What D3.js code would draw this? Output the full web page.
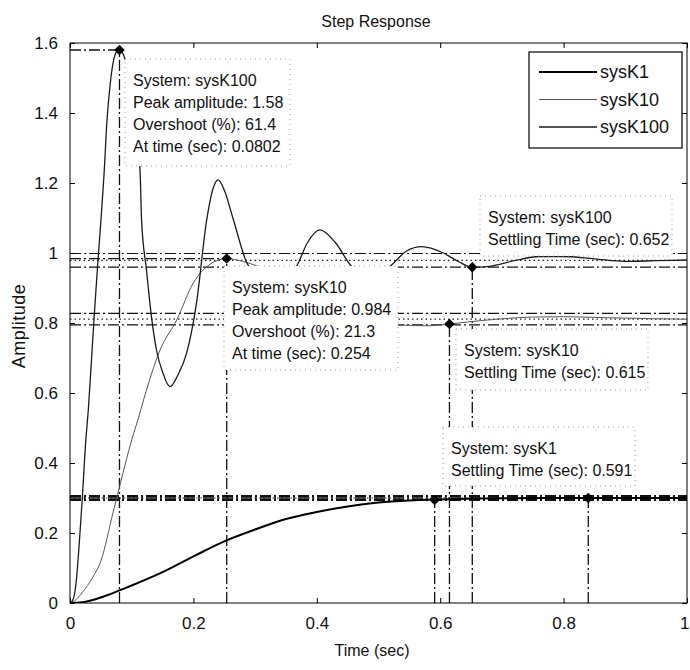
<!DOCTYPE html>
<html>
<head>
<meta charset="utf-8">
<script src="https://cdn.jsdelivr.net/npm/d3@7"></script>
<style>
  body { margin: 0; background: #fff; }
  svg text { font-family: "Liberation Sans", Arial, sans-serif; fill: #111; }
</style>
</head>
<body>
<div id="chart"></div>
<script>
// step responses
const tK1 = [0, 0.02, 0.04, 0.06, 0.08, 0.1, 0.15, 0.2, 0.25, 0.3, 0.35, 0.4, 0.45, 0.5, 0.55, 0.6, 0.7, 0.8, 0.9, 1.0];
const yK1 = [0, 0.002, 0.01, 0.022, 0.036, 0.05, 0.088, 0.133, 0.176, 0.21, 0.24, 0.26, 0.276, 0.287, 0.293, 0.296, 0.299, 0.3, 0.3, 0.3];

const tK10 = [0, 0.01, 0.02, 0.037, 0.05, 0.07, 0.081, 0.1, 0.11, 0.12, 0.146, 0.173, 0.2, 0.227, 0.254, 0.28, 0.3, 0.35, 0.4, 0.45, 0.5, 0.54, 0.58, 0.615, 0.65, 0.7, 0.75, 0.8, 0.85, 0.9, 0.95, 1.0];
const yK10 = [0, 0.01, 0.03, 0.074, 0.12, 0.26, 0.337, 0.466, 0.523, 0.585, 0.723, 0.809, 0.915, 0.968, 0.984, 0.976, 0.965, 0.92, 0.865, 0.825, 0.8, 0.794, 0.792, 0.797, 0.804, 0.812, 0.817, 0.818, 0.816, 0.814, 0.812, 0.811];

const tK100 = [0, 0.005, 0.01, 0.015, 0.02, 0.025, 0.03, 0.035, 0.04, 0.045, 0.05, 0.055, 0.06, 0.065, 0.07, 0.075, 0.0802, 0.09, 0.1, 0.108, 0.1135, 0.116, 0.124, 0.132, 0.1405, 0.15, 0.162, 0.175, 0.189, 0.205, 0.2215, 0.232, 0.24, 0.25, 0.264, 0.286, 0.31, 0.33, 0.35, 0.367, 0.385, 0.405, 0.43, 0.457, 0.49, 0.521, 0.545, 0.57, 0.605, 0.63, 0.652, 0.68, 0.72, 0.76, 0.8, 0.85, 0.9, 0.95, 1.0];
const yK100 = [0, 0.01, 0.06, 0.17, 0.3, 0.45, 0.56, 0.7, 0.84, 0.97, 1.09, 1.22, 1.38, 1.48, 1.545, 1.574, 1.58, 1.55, 1.45, 1.33, 1.237, 1.094, 0.951, 0.818, 0.72, 0.66, 0.618, 0.652, 0.714, 0.857, 1.094, 1.185, 1.209, 1.18, 1.10, 0.974, 0.925, 0.912, 0.928, 0.961, 1.03, 1.066, 1.03, 0.961, 0.935, 0.966, 1.005, 1.018, 1.0, 0.975, 0.959, 0.962, 0.978, 0.99, 0.99, 0.983, 0.976, 0.978, 0.98];

const seriesNames = ["sysK1", "sysK10", "sysK100"];
const finalValues = [0.3, 0.811, 0.979];

// peak response characteristics
const peakNames = ["sysK100", "sysK10", "sysK1"];
const peakTimes = [0.0802, 0.254, 0.84];
const peakValues = [1.58, 0.984, 0.3];
const peakOvershoot = [61.4, 21.3, 0];

// settling time characteristics
const settleNames = ["sysK100", "sysK10", "sysK1"];
const settleTimes = [0.652, 0.615, 0.591];
const settleValues = [0.959, 0.797, 0.294];

const xTicks = [0, 0.2, 0.4, 0.6, 0.8, 1];
const yTicks = [0, 0.2, 0.4, 0.6, 0.8, 1, 1.2, 1.4, 1.6];

const width = 690, height = 670;
const plotL = 70, plotR = 687, plotT = 43, plotB = 603;

const svg = d3.select("#chart").append("svg")
    .attr("width", width)
    .attr("height", height);

const x = d3.scaleLinear().domain([0, 1]).range([plotL, plotR]);
const y = d3.scaleLinear().domain([0, 1.6]).range([plotB, plotT]);

svg.append("clipPath").attr("id", "plot")
  .append("rect")
    .attr("x", plotL).attr("y", plotT)
    .attr("width", plotR - plotL).attr("height", plotB - plotT);

const plot = svg.append("g").attr("clip-path", "url(#plot)");

const dashDot = "11,3,2,3";
const dotted = "1.5,3";

// settling bounds (2%) and final values
finalValues.forEach((f, i) => {
    const w = i === 0 ? 2 : 1.2;
    [f * 0.98, f * 1.02].forEach(b => {
        plot.append("line")
            .attr("x1", x(0)).attr("x2", x(1))
            .attr("y1", y(b)).attr("y2", y(b))
            .attr("stroke", "#111").attr("stroke-width", w)
            .attr("stroke-dasharray", dashDot);
    });
    plot.append("line")
        .attr("x1", x(0)).attr("x2", x(1))
        .attr("y1", y(f)).attr("y2", y(f))
        .attr("stroke", "#222").attr("stroke-width", 1.2)
        .attr("stroke-dasharray", dotted);
});

// peak guide lines
peakTimes.forEach((t, i) => {
    plot.append("line")
        .attr("x1", x(t)).attr("x2", x(t))
        .attr("y1", y(0)).attr("y2", y(peakValues[i]))
        .attr("stroke", "#111").attr("stroke-width", 1.3)
        .attr("stroke-dasharray", dashDot);
    plot.append("line")
        .attr("x1", x(0)).attr("x2", x(t))
        .attr("y1", y(peakValues[i])).attr("y2", y(peakValues[i]))
        .attr("stroke", "#111").attr("stroke-width", 1.3)
        .attr("stroke-dasharray", dashDot);
});

// settling guide lines
settleTimes.forEach((t, i) => {
    plot.append("line")
        .attr("x1", x(t)).attr("x2", x(t))
        .attr("y1", y(0)).attr("y2", y(settleValues[i]))
        .attr("stroke", "#111").attr("stroke-width", 1.3)
        .attr("stroke-dasharray", dashDot);
});

// response curves
const line = d3.line()
    .x(d => x(d[0]))
    .y(d => y(d[1]))
    .curve(d3.curveMonotoneX);

const curves = [
    { t: tK1, v: yK1, color: "#000", w: 2 },
    { t: tK10, v: yK10, color: "#555", w: 1 },
    { t: tK100, v: yK100, color: "#1a1a1a", w: 1.3 }
];

curves.forEach(c => {
    plot.append("path")
        .datum(d3.zip(c.t, c.v))
        .attr("fill", "none")
        .attr("stroke", c.color)
        .attr("stroke-width", c.w)
        .attr("d", line);
});

// markers
const marker = d3.symbol().type(d3.symbolSquare).size(55);
const markerPts = d3.zip(peakTimes, peakValues).concat(d3.zip(settleTimes, settleValues));
plot.selectAll(".mk")
    .data(markerPts)
    .enter()
    .append("path")
    .attr("d", marker)
    .attr("transform", d => `translate(${x(d[0])},${y(d[1])}) rotate(45)`)
    .attr("fill", "#000");

// axes box and ticks
svg.append("rect")
    .attr("x", plotL).attr("y", plotT)
    .attr("width", plotR - plotL).attr("height", plotB - plotT)
    .attr("fill", "none").attr("stroke", "#000").attr("stroke-width", 1);

svg.append("g")
    .attr("transform", `translate(0,${plotB})`)
    .call(d3.axisBottom(x).tickValues(xTicks).tickSize(-5).tickPadding(14).tickFormat(d3.format("~g")))
    .call(g => g.select(".domain").remove())
    .call(g => g.selectAll(".tick:last-of-type text").attr("text-anchor", "end").attr("x", 2));
svg.append("g")
    .attr("transform", `translate(0,${plotT})`)
    .call(d3.axisTop(x).tickValues(xTicks).tickSize(-5).tickFormat(""))
    .call(g => g.select(".domain").remove());
svg.append("g")
    .attr("transform", `translate(${plotL},0)`)
    .call(d3.axisLeft(y).tickValues(yTicks).tickSize(-5).tickPadding(12).tickFormat(d3.format("~g")))
    .call(g => g.select(".domain").remove());
svg.append("g")
    .attr("transform", `translate(${plotR},0)`)
    .call(d3.axisRight(y).tickValues(yTicks).tickSize(-5).tickFormat(""))
    .call(g => g.select(".domain").remove());

svg.selectAll(".tick line").attr("stroke", "#000");
svg.selectAll(".tick text")
    .style("font-family", "'Liberation Sans', Arial, sans-serif")
    .style("font-size", "17px")
    .attr("fill", "#222");

// datatip boxes (opaque, cover what is below them)
function datatip(bx, by, bw, bh, lines) {
    const g = svg.append("g");
    g.append("rect")
        .attr("x", bx).attr("y", by)
        .attr("width", bw).attr("height", bh)
        .attr("fill", "#fff")
        .attr("stroke", "#999").attr("stroke-width", 1)
        .attr("stroke-dasharray", "1,4");
    lines.forEach((s, i) => {
        g.append("text")
            .attr("x", bx + 8)
            .attr("y", by + 27 + i * 22)
            .style("font-size", "16px")
            .text(s);
    });
}

datatip(125, 59, 165, 107, [
    "System: " + peakNames[0],
    "Peak amplitude: " + peakValues[0],
    "Overshoot (%): " + peakOvershoot[0],
    "At time (sec): " + peakTimes[0]
]);
datatip(224, 266, 174, 104, [
    "System: " + peakNames[1],
    "Peak amplitude: " + peakValues[1],
    "Overshoot (%): " + peakOvershoot[1],
    "At time (sec): " + peakTimes[1]
]);
datatip(480, 196, 192, 60, [
    "System: " + settleNames[0],
    "Settling Time (sec): " + settleTimes[0]
]);
datatip(456, 329, 192, 61, [
    "System: " + settleNames[1],
    "Settling Time (sec): " + settleTimes[1]
]);
datatip(443, 427, 192, 59, [
    "System: " + settleNames[2],
    "Settling Time (sec): " + settleTimes[2]
]);

// legend
const legend = svg.append("g");
legend.append("rect")
    .attr("x", 529).attr("y", 52)
    .attr("width", 153).attr("height", 96)
    .attr("fill", "#fff").attr("stroke", "#000").attr("stroke-width", 1.2);
seriesNames.forEach((s, i) => {
    const ly = 72 + i * 27.5;
    legend.append("line")
        .attr("x1", 539).attr("x2", 597)
        .attr("y1", ly).attr("y2", ly)
        .attr("stroke", curves[i].color)
        .attr("stroke-width", curves[i].w);
    legend.append("text")
        .attr("x", 600).attr("y", ly)
        .attr("dy", "0.35em")
        .style("font-size", "18px")
        .text(s);
});

// titles
svg.append("text")
    .attr("x", 376).attr("y", 27)
    .attr("text-anchor", "middle")
    .style("font-size", "16px")
    .text("Step Response");
svg.append("text")
    .attr("x", 372).attr("y", 656)
    .attr("text-anchor", "middle")
    .style("font-size", "16px")
    .text("Time (sec)");
svg.append("text")
    .attr("transform", "translate(25,326) rotate(-90)")
    .attr("text-anchor", "middle")
    .style("font-size", "18px")
    .style("letter-spacing", "0.5px")
    .text("Amplitude");
</script>
</body>
</html>
